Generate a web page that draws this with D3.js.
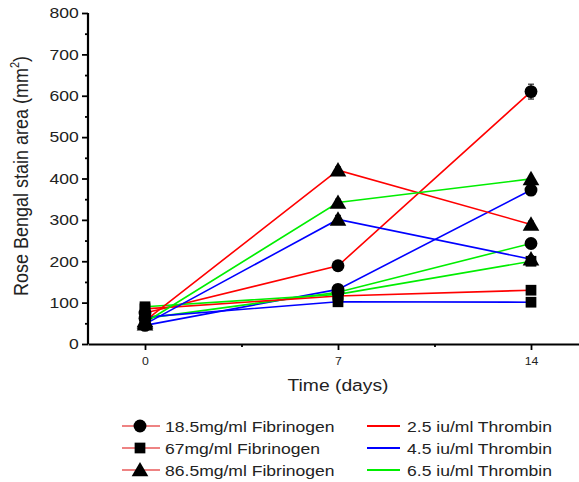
<!DOCTYPE html>
<html>
<head>
<meta charset="utf-8">
<script src="https://cdn.jsdelivr.net/npm/d3@7"></script>
<style>
  body { margin: 0; background: #fff; }
  svg { display: block; font-family: "Liberation Sans", Arial, sans-serif; }
</style>
</head>
<body>
<div id="viz"></div>
<script>
const W = 579, H = 482;
const STRETCH = 1.17; // the source picture is wider than tall, text looks stretched

const days = [0, 7, 14];
const fibrinogen = ["18.5mg/ml Fibrinogen", "67mg/ml Fibrinogen", "86.5mg/ml Fibrinogen"];
const fibShapes = ["circle", "square", "triangle"];
const thrombin = ["2.5 iu/ml Thrombin", "4.5 iu/ml Thrombin", "6.5 iu/ml Thrombin"];
const thrombinColors = ["#ff0000", "#0000ff", "#00ee00"];
const yTicks = [0, 100, 200, 300, 400, 500, 600, 700, 800];

// stain area per fibrinogen (rows) x thrombin (cols), one value per day
const circleValues = [[75, 189, 610], [45, 132, 372], [62, 125, 243]];
const squareValues = [[85, 116, 130], [65, 102, 101], [90, 120, 200]];
const triangleValues = [[56, 420, 289], [48, 301, 205], [52, 342, 399]];
const circleErrors = [[10, 6, 18], [8, 6, 8], [8, 6, 8]];
const squareErrors = [[10, 5, 5], [8, 5, 5], [8, 5, 6]];
const triangleErrors = [[10, 8, 8], [8, 10, 8], [8, 8, 6]];

const valuesByShape = [circleValues, squareValues, triangleValues];
const errorsByShape = [circleErrors, squareErrors, triangleErrors];

const svg = d3.select("#viz").append("svg").attr("width", W).attr("height", H);

const AX_LEFT = 88, AX_RIGHT = 579, AX_TOP = 13, AX_BOTTOM = 344;
const x0 = d3.scaleLinear().domain([0, 14]).range([145, 531]);
const x = d3.scaleLinear().domain([x0.invert(AX_LEFT), x0.invert(AX_RIGHT)]).range([AX_LEFT, AX_RIGHT]);
const y = d3.scaleLinear().domain([0, 800]).range([AX_BOTTOM, AX_TOP]);

const symbolFor = {
  circle: d3.symbol().type(d3.symbolCircle).size(130),
  square: d3.symbol().type(d3.symbolSquare).size(115),
  triangle: d3.symbol().type(d3.symbolTriangle).size(120)
};

function stretchedText(parent, px, py, str, size, anchor) {
  return parent.append("text")
    .attr("transform", `translate(${px},${py}) scale(${STRETCH},1)`)
    .attr("text-anchor", anchor || "start")
    .attr("font-size", size)
    .attr("fill", "#222")
    .text(str);
}

// series
const series = [];
fibShapes.forEach((shape, fi) => {
  thrombin.forEach((t, ti) => {
    series.push({
      shape, color: thrombinColors[ti],
      points: days.map((d, k) => ({ day: d, v: valuesByShape[fi][ti][k], e: errorsByShape[fi][ti][k] }))
    });
  });
});

const line = d3.line().x(d => x(d.day)).y(d => y(d.v));
svg.append("g").selectAll("path").data(series).join("path")
  .attr("d", s => line(s.points))
  .attr("fill", "none")
  .attr("stroke", s => s.color)
  .attr("stroke-width", 1.6);

const marks = svg.append("g");
series.forEach(s => {
  s.points.forEach(p => {
    marks.append("line")
      .attr("x1", x(p.day)).attr("x2", x(p.day))
      .attr("y1", y(p.v - p.e)).attr("y2", y(p.v + p.e))
      .attr("stroke", "#000").attr("stroke-width", 1);
    [p.v - p.e, p.v + p.e].forEach(v => marks.append("line")
      .attr("x1", x(p.day) - 3).attr("x2", x(p.day) + 3)
      .attr("y1", y(v)).attr("y2", y(v))
      .attr("stroke", "#000").attr("stroke-width", 1));
    marks.append("path")
      .attr("d", symbolFor[s.shape]())
      .attr("transform", `translate(${x(p.day)},${y(p.v) + (s.shape === "triangle" ? 1.5 : 0)})`)
      .attr("fill", "#000");
  });
});

// axes
const yAxis = svg.append("g").attr("transform", `translate(${AX_LEFT},0)`)
  .call(d3.axisLeft(y).tickValues(yTicks).tickSize(6).tickPadding(2));
yAxis.selectAll(".tick text").attr("font-size", 15).attr("fill", "#222")
  .attr("transform", `scale(${STRETCH},1)`);
svg.append("g").attr("transform", `translate(${AX_LEFT},0)`)
  .call(d3.axisLeft(y).tickValues(d3.range(50, 800, 100)).tickSize(3).tickFormat(""))
  .call(g => g.select(".domain").remove());

const xAxis = svg.append("g").attr("transform", `translate(0,${AX_BOTTOM})`)
  .call(d3.axisBottom(x).tickValues(days).tickSize(6).tickPadding(8).tickSizeOuter(0));
xAxis.selectAll(".tick text").attr("font-size", 10.5).attr("fill", "#222")
  .attr("transform", `scale(${STRETCH},1)`);
svg.append("g").attr("transform", `translate(0,${AX_BOTTOM})`)
  .call(d3.axisBottom(x).tickValues([3.5, 10.5]).tickSize(3).tickFormat(""))
  .call(g => g.select(".domain").remove());

svg.selectAll(".domain").attr("stroke-width", 2.2);
svg.selectAll(".tick line").attr("stroke-width", 1.8);
yAxis.select(".domain").attr("d", `M0,${AX_BOTTOM}V${AX_TOP}`);

// titles
stretchedText(svg, x0(7), 391, "Time (days)", 16.5, "middle");

const yTitle = svg.append("text")
  .attr("transform", `translate(28,176) scale(${STRETCH},1) rotate(-90)`)
  .attr("text-anchor", "middle").attr("font-size", 18).attr("fill", "#222");
yTitle.append("tspan").text("Rose Bengal stain area (mm");
yTitle.append("tspan").attr("font-size", 11).attr("dy", -8).text("2");
yTitle.append("tspan").attr("dy", 8).text(")");

// legend
const legRows = [426, 448, 470];
const legend = svg.append("g");
fibrinogen.forEach((name, i) => {
  legend.append("line").attr("x1", 122).attr("x2", 160)
    .attr("y1", legRows[i]).attr("y2", legRows[i])
    .attr("stroke", "#e85a5a").attr("stroke-width", 1.6);
  legend.append("path").attr("d", symbolFor[fibShapes[i]]())
    .attr("transform", `translate(140,${legRows[i] + (fibShapes[i] === "triangle" ? 1.5 : 0)})`)
    .attr("fill", "#000");
  stretchedText(legend, 165, legRows[i] + 5.5, name, 15);
});
thrombin.forEach((name, i) => {
  legend.append("line").attr("x1", 367).attr("x2", 400)
    .attr("y1", legRows[i]).attr("y2", legRows[i])
    .attr("stroke", thrombinColors[i]).attr("stroke-width", 2);
  stretchedText(legend, 407, legRows[i] + 5.5, name, 15);
});
</script>
</body>
</html>
